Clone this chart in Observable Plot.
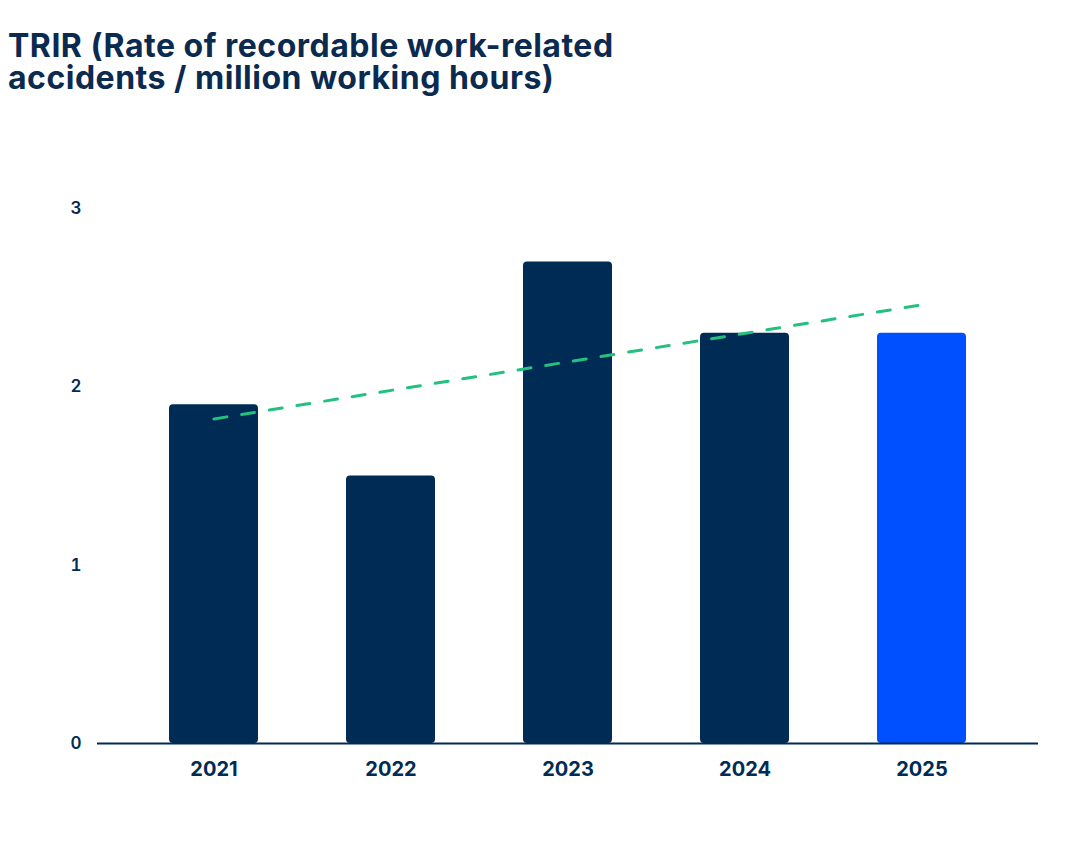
<!DOCTYPE html>
<html>
<head>
<meta charset="utf-8">
<script src="https://cdn.jsdelivr.net/npm/d3@7"></script>
<script src="https://cdn.jsdelivr.net/npm/@observablehq/plot@0.6"></script>
<style>
  html, body { margin: 0; padding: 0; background: #ffffff; }
  body { width: 1080px; height: 864px; overflow: hidden; font-family: Inter, "Open Sans", sans-serif; }
  #title { height: 110px; box-sizing: border-box; padding: 30px 0 0 8px; color: #0b2a50; font-weight: 700; font-size: 32px; line-height: 32px; letter-spacing: 0.5px; white-space: nowrap; }
  #title div { height: 32px; }
  #chart svg { display: block; }
</style>
</head>
<body>
<div id="title"><div>TRIR (Rate of recordable work-related</div><div>accidents / million working hours)</div></div>
<div id="chart"></div>
<script>
const years = ["2021", "2022", "2023", "2024", "2025"];
const values = [1.9, 1.5, 2.7, 2.3, 2.3];
const yTicks = [0, 1, 2, 3];
const trendYears = ["2021", "2025"];
const trendValues = [1.82, 2.46];

const navy = "#002b55";
const highlight = "#0050ff";

const bars = years.map((y, i) => ({year: y, value: values[i]}));
const trend = trendYears.map((y, i) => ({year: y, value: trendValues[i]}));

const chart = Plot.plot({
  width: 1080,
  height: 754,
  marginTop: 98,
  marginBottom: 121,
  marginLeft: 97,
  marginRight: 42,
  style: {fontFamily: "Inter, 'Open Sans', sans-serif", color: navy, background: "#ffffff"},
  x: {domain: years, paddingInner: 0.5, paddingOuter: 0.4, label: null},
  y: {domain: [0, 3], ticks: yTicks, label: null},
  marks: [
    Plot.barY(bars, {x: "year", y: "value", fill: d => d.year === "2025" ? highlight : navy, rx: 4}),
    Plot.ruleY([0], {stroke: navy, strokeWidth: 2}),
    Plot.line(trend, {x: "year", y: "value", stroke: "#22c17f", strokeWidth: 3, strokeDasharray: "13,15"}),
    Plot.axisY({ticks: yTicks, tickSize: 0, tickPadding: 16, fontSize: 17, fontWeight: 600, fill: navy, tickFormat: d => String(d), label: null}),
    Plot.axisX({tickSize: 0, tickPadding: 18, fontSize: 20, fontWeight: 700, fill: navy, label: null})
  ]
});
document.getElementById("chart").appendChild(chart);
</script>
</body>
</html>
